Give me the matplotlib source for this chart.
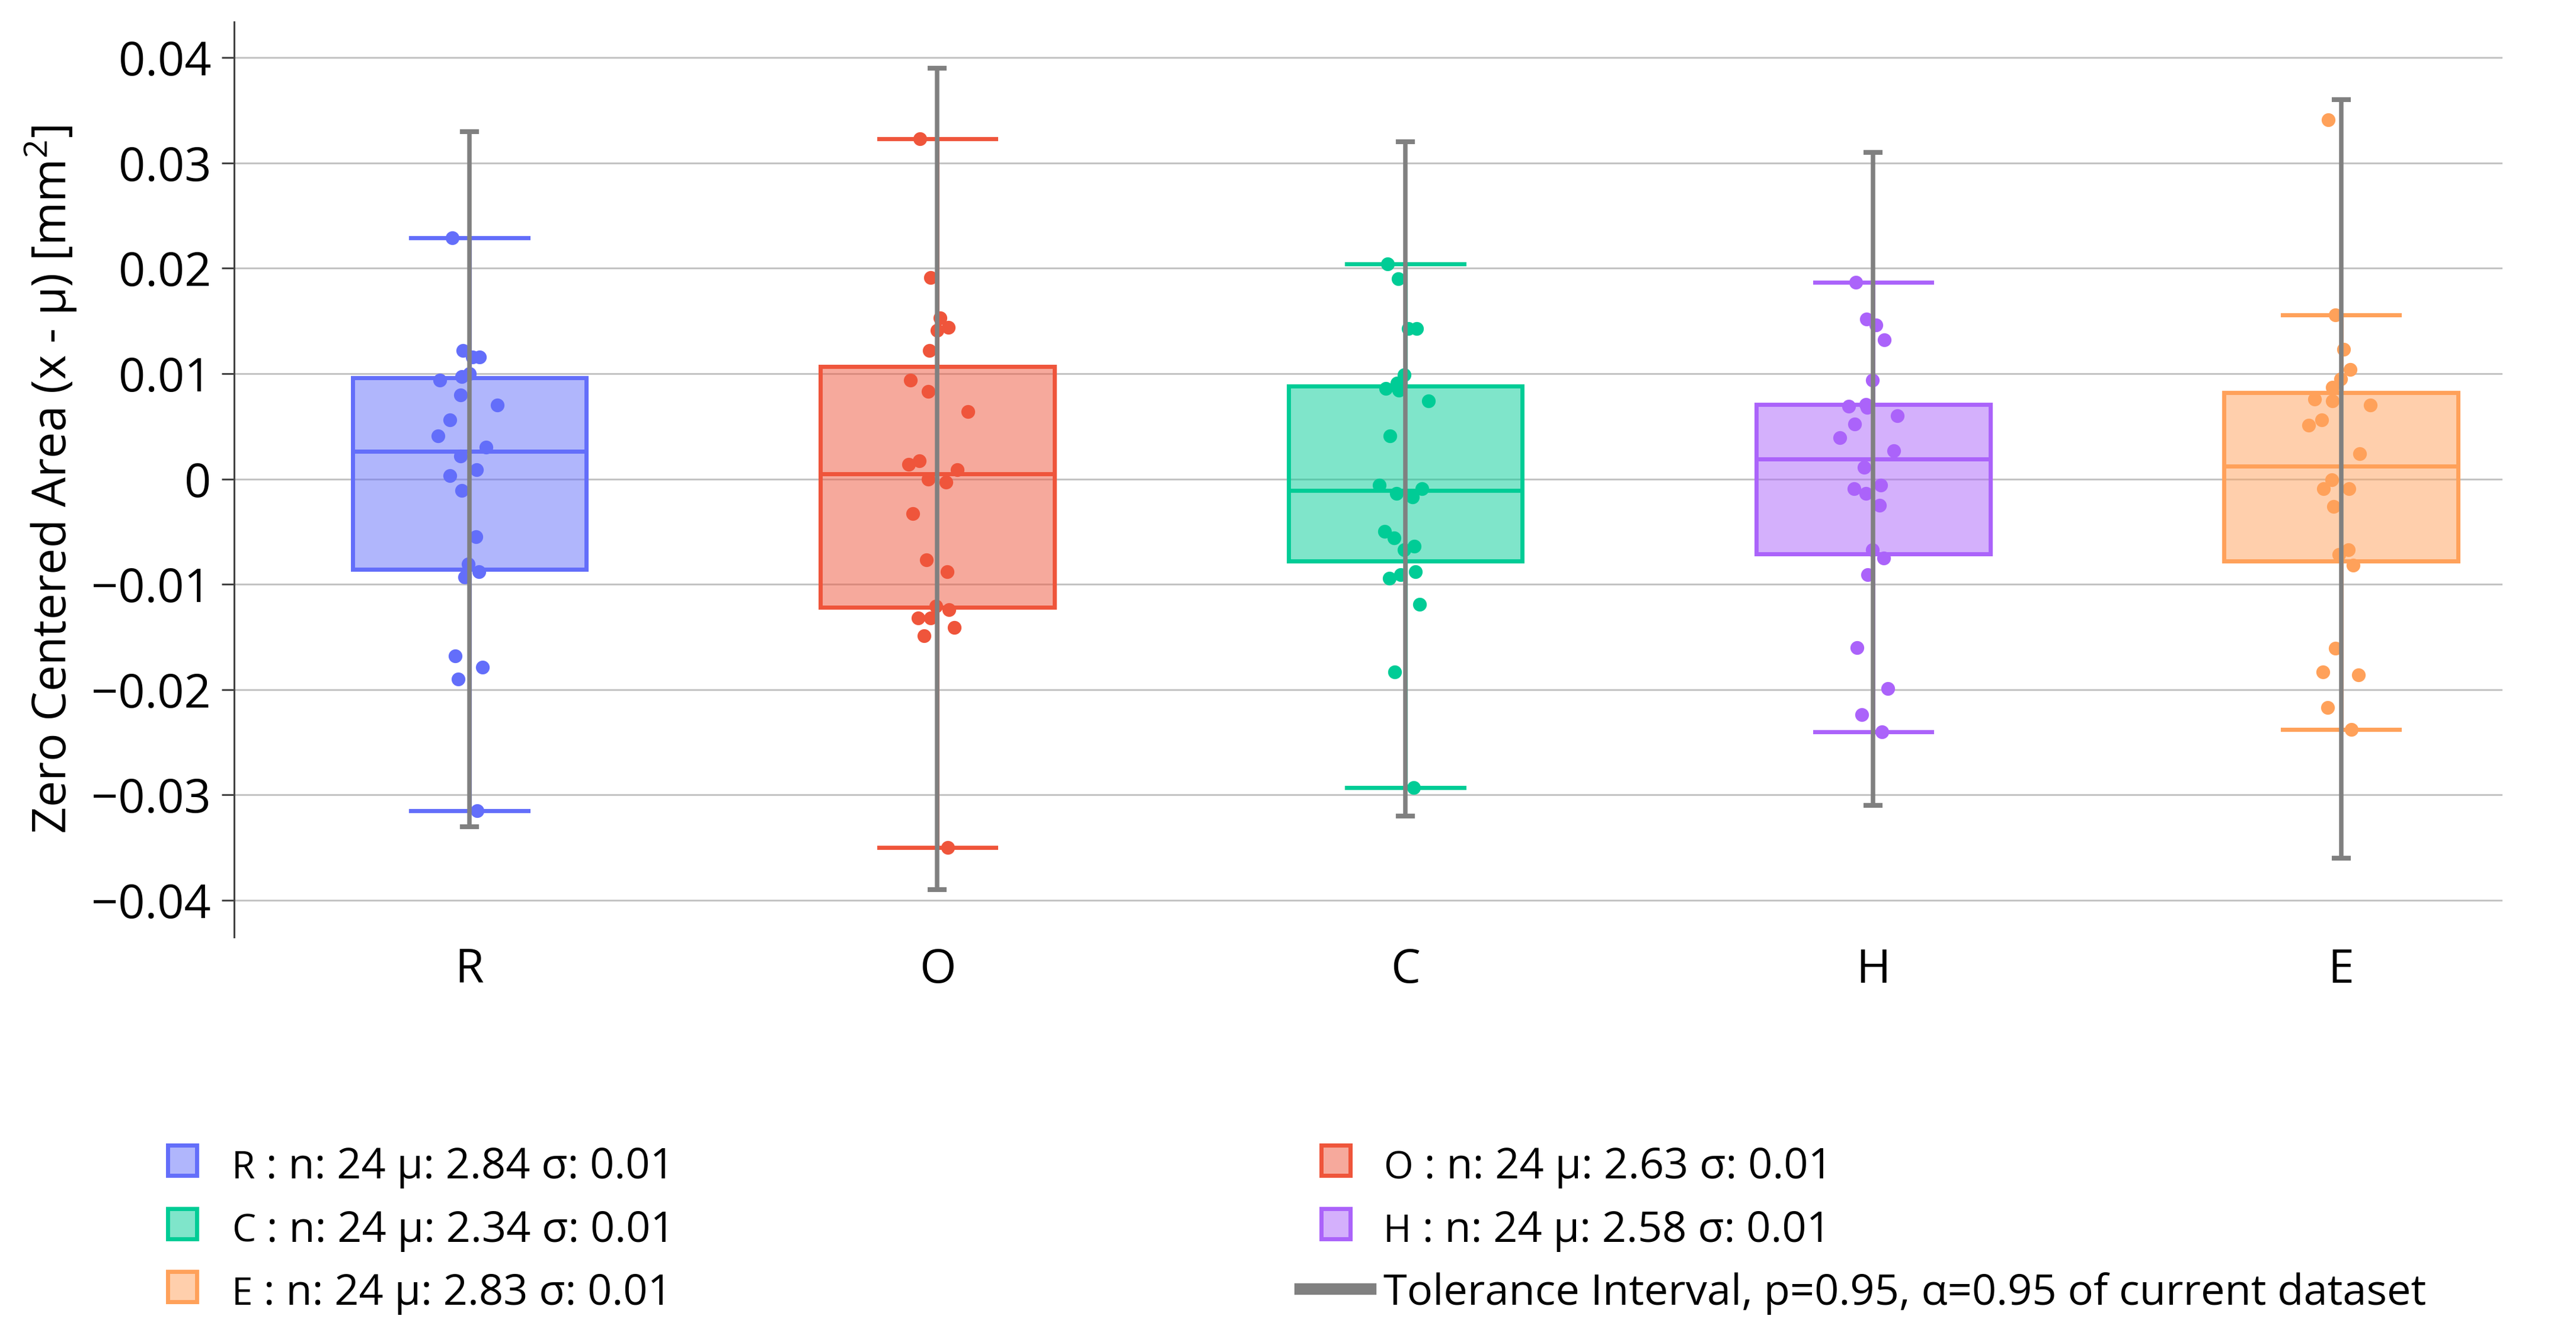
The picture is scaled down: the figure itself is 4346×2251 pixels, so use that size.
import matplotlib
matplotlib.use("Agg")
import matplotlib.pyplot as plt
from matplotlib.patches import Rectangle
from matplotlib.lines import Line2D
from matplotlib.colors import to_rgba

plt.rcParams['font.family'] = ['Open Sans', 'DejaVu Sans']

# ---- data ----
categories = ["R", "O", "C", "H", "E"]
colors = ["#636EFA", "#EF553B", "#00CC96", "#AB63FA", "#FFA15A"]
n_values = [24, 24, 24, 24, 24]
mean_values = [2.84, 2.63, 2.34, 2.58, 2.83]
sigma_values = [0.01, 0.01, 0.01, 0.01, 0.01]

q1 = [-0.0086, -0.0122, -0.0078, -0.0071, -0.0078]
median = [0.0026, 0.0005, -0.0011, 0.0019, 0.0012]
q3 = [0.0096, 0.0107, 0.0088, 0.0071, 0.0082]
whisker_low = [-0.0315, -0.0350, -0.0293, -0.0240, -0.0238]
whisker_high = [0.0229, 0.0323, 0.0204, 0.0187, 0.0156]

tol_low = [-0.033, -0.039, -0.032, -0.031, -0.036]
tol_high = [0.033, 0.039, 0.032, 0.031, 0.036]

values_R = [0.0229, 0.0122, 0.0116, 0.0116, 0.0094, 0.0097, 0.0100, 0.0080, 0.0070, 0.0056, 0.0041, 0.0030,
            0.0022, 0.0009, 0.0003, -0.0011, -0.0055, -0.0081, -0.0088, -0.0093, -0.0168, -0.0179, -0.0190, -0.0315]
values_O = [0.0323, 0.0191, 0.0153, 0.0141, 0.0144, 0.0122, 0.0094, 0.0083, 0.0064, 0.0014, 0.0017, 0.0009,
            0.0000, -0.0003, -0.0033, -0.0077, -0.0088, -0.0121, -0.0124, -0.0132, -0.0132, -0.0141, -0.0149, -0.0350]
values_C = [0.0204, 0.0190, 0.0143, 0.0143, 0.0099, 0.0091, 0.0084, 0.0086, 0.0074, 0.0041, -0.0006, -0.0009,
            -0.0014, -0.0017, -0.0050, -0.0056, -0.0064, -0.0067, -0.0088, -0.0091, -0.0094, -0.0119, -0.0183, -0.0293]
values_H = [0.0187, 0.0152, 0.0146, 0.0132, 0.0094, 0.0069, 0.0071, 0.0060, 0.0052, 0.0039, 0.0027, 0.0011,
            -0.0009, -0.0006, -0.0014, -0.0025, -0.0067, -0.0075, -0.0091, -0.0160, -0.0199, -0.0224, -0.0240, 0.0068]
values_E = [0.0341, 0.0156, 0.0123, 0.0104, 0.0095, 0.0087, 0.0076, 0.0074, 0.0070, 0.0056, 0.0051, 0.0024,
            -0.0001, -0.0009, -0.0009, -0.0026, -0.0067, -0.0072, -0.0082, -0.0161, -0.0183, -0.0186, -0.0217, -0.0238]

# horizontal jitter of each point (category units), as seen in the picture
jitter_R = [-0.037, -0.014, 0.022, 0.006, -0.064, -0.017, 0.000, -0.019, 0.059, -0.042, -0.067, 0.036,
            -0.019, 0.015, -0.042, -0.016, 0.014, -0.003, 0.020, -0.010, -0.031, 0.028, -0.024, 0.017]
jitter_O = [-0.037, -0.014, 0.006, -0.001, 0.023, -0.017, -0.057, -0.019, 0.065, -0.061, -0.039, 0.042,
            -0.020, 0.018, -0.053, -0.023, 0.021, -0.003, 0.025, -0.041, -0.014, 0.036, -0.029, 0.022]
jitter_C = [-0.038, -0.015, 0.006, 0.024, -0.002, -0.017, -0.014, -0.042, 0.049, -0.033, -0.055, 0.036,
            -0.019, 0.015, -0.044, -0.024, 0.019, -0.002, 0.022, -0.010, -0.034, 0.030, -0.023, 0.018]
jitter_H = [-0.037, -0.014, 0.006, 0.024, -0.001, -0.052, -0.016, 0.051, -0.039, -0.071, 0.044, -0.019,
            -0.041, 0.016, -0.015, 0.014, -0.002, 0.023, -0.012, -0.034, 0.031, -0.025, 0.019, -0.013]
jitter_E = [-0.028, -0.012, 0.005, 0.019, -0.001, -0.018, -0.056, -0.018, 0.063, -0.042, -0.069, 0.040,
            -0.020, -0.037, 0.017, -0.016, 0.016, -0.005, 0.026, -0.012, -0.039, 0.037, -0.029, 0.022]

points = [values_R, values_O, values_C, values_H, values_E]
jitters = [jitter_R, jitter_O, jitter_C, jitter_H, jitter_E]

y_ticks = [0.04, 0.03, 0.02, 0.01, 0, -0.01, -0.02, -0.03, -0.04]
y_tick_labels = ["0.04", "0.03", "0.02", "0.01", "0", "\u22120.01", "\u22120.02", "\u22120.03", "\u22120.04"]
tol_label = "Tolerance Interval, p=0.95, \u03b1=0.95 of current dataset"

# ---- figure ----
W, H = 4346, 2251
DPI = 100
fig = plt.figure(figsize=(W / DPI, H / DPI), dpi=DPI)
ax = fig.add_axes([395 / W, 1 - 1580 / H, (4222 - 395) / W, (1580 - 37) / H])

pos = list(range(len(categories)))

# boxes
stats = []
for i in pos:
    stats.append(dict(med=median[i], q1=q1[i], q3=q3[i], whislo=whisker_low[i], whishi=whisker_high[i], fliers=[]))
bp = ax.bxp(stats, positions=pos, widths=0.5, capwidths=0.25, patch_artist=True, showfliers=False)
for i in pos:
    c = colors[i]
    bp['boxes'][i].set_facecolor(to_rgba(c, 0.5))
    bp['boxes'][i].set_edgecolor(c)
    bp['boxes'][i].set_linewidth(5)
    bp['boxes'][i].set_zorder(2)
    bp['medians'][i].set_color(c)
    bp['medians'][i].set_linewidth(5)
    bp['medians'][i].set_zorder(2.1)
    for k in (2 * i, 2 * i + 1):
        bp['whiskers'][k].set_color(c)
        bp['whiskers'][k].set_linewidth(5)
        bp['caps'][k].set_color(c)
        bp['caps'][k].set_linewidth(5)

# points
for i in pos:
    xs = [pos[i] + j for j in jitters[i]]
    ax.scatter(xs, points[i], s=280, color=colors[i], linewidths=0, zorder=3)

# tolerance intervals
mids = [(lo + hi) / 2 for lo, hi in zip(tol_low, tol_high)]
err = [[m - lo for m, lo in zip(mids, tol_low)], [hi - m for m, hi in zip(mids, tol_high)]]
ax.errorbar(pos, mids, yerr=err, fmt='none', ecolor='#808080', elinewidth=5.4,
            capsize=11.5, capthick=5.8, zorder=4)

# axes styling
ax.set_xlim(-0.503, 4.345)
ax.set_ylim(-0.0435, 0.0434)
ax.set_xticks(pos)
ax.set_xticklabels(categories, fontsize=57)
ax.set_yticks(y_ticks)
ax.set_yticklabels(y_tick_labels, fontsize=57)
ax.tick_params(axis='x', length=0, pad=12)
ax.tick_params(axis='y', length=15, width=2.2, color='#444444', pad=13)
for s in ('top', 'right', 'bottom'):
    ax.spines[s].set_visible(False)
ax.spines['left'].set_color('#444444')
ax.spines['left'].set_linewidth(2.2)
ax.yaxis.grid(True, color='#c4c4c4', linewidth=2.2)
ax.set_axisbelow(True)
ax.set_ylabel("Zero Centered Area (x - \u03bc) [mm$^\\mathregular{2}$]", fontsize=57)
ax.yaxis.set_label_coords(-0.0687, 0.5)

# legend, drawn by hand (plotly style, 2 columns)
renderer = fig.canvas.get_renderer()
row_base = [1987, 2094, 2200]
swatch_x = [279, 2225]
text_x = [391, 2334]
entries = list(range(len(categories))) + ['tol']
for k, e in enumerate(entries):
    r, col = k // 2, k % 2
    base = row_base[r]
    cy = base - 30
    if e == 'tol':
        fig.add_artist(Line2D([2193 / W, 2312 / W], [1 - (cy + 3) / H, 1 - (cy + 3) / H],
                              color='#808080', linewidth=14, transform=fig.transFigure))
        fig.text(text_x[col] / W, 1 - base / H, tol_label, fontsize=52, va='baseline', ha='left')
        continue
    c = colors[e]
    fig.add_artist(Rectangle(((swatch_x[col] + 3.5) / W, 1 - (cy + 25) / H), 49 / W, 51 / H,
                             facecolor=to_rgba(c, 0.5), edgecolor=c, linewidth=5,
                             transform=fig.transFigure))
    t = fig.text(text_x[col] / W, 1 - base / H, categories[e], fontsize=46, va='baseline', ha='left')
    bb = t.get_window_extent(renderer=renderer)
    rest = " : n: %d \u03bc: %.2f \u03c3: %.2f" % (n_values[e], mean_values[e], sigma_values[e])
    fig.text(bb.x1 / W, 1 - base / H, rest, fontsize=52, va='baseline', ha='left')

fig.savefig("out.png", dpi=DPI)
